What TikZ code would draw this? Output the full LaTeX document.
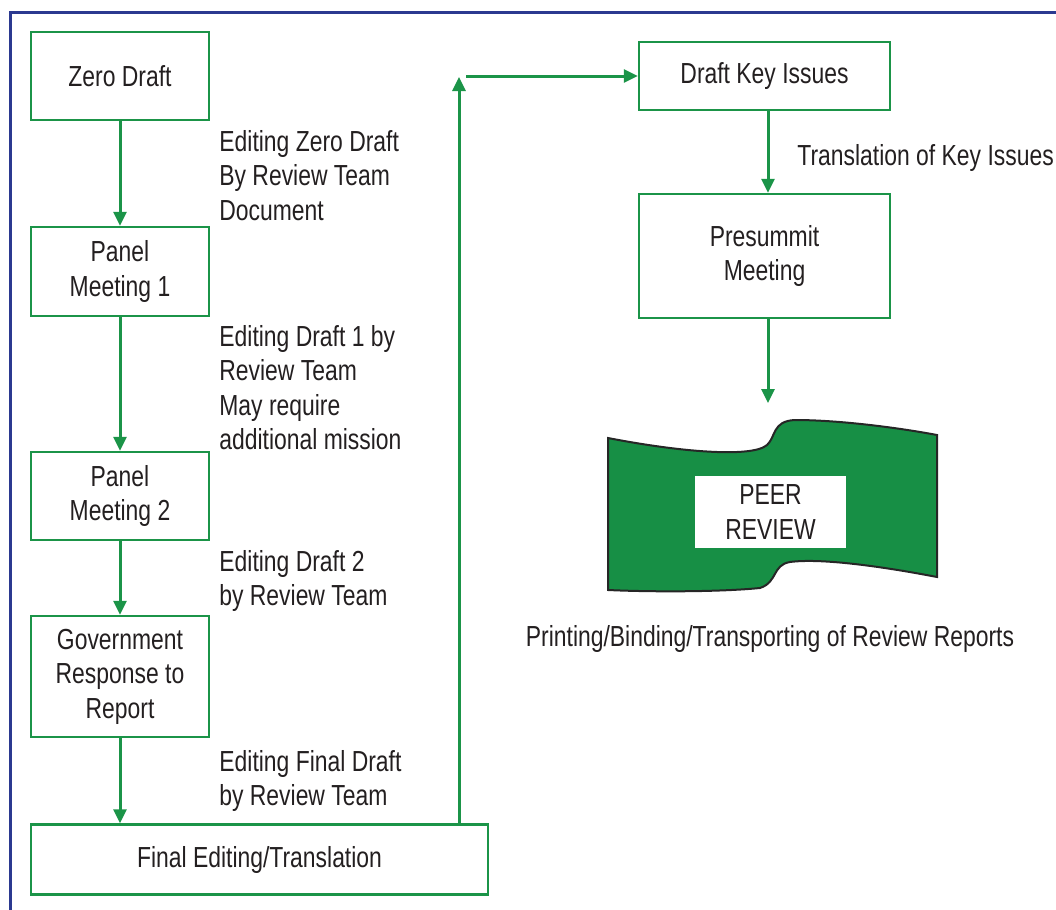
\documentclass[tikz,border=0pt]{standalone}
\usepackage{fontspec}
\setmainfont[FakeStretch=0.79]{Liberation Sans}
\usepackage{xcolor}
\usetikzlibrary{arrows.meta}

\definecolor{boxgreen}{RGB}{27,148,72}
\definecolor{flaggreen}{RGB}{23,143,69}
\definecolor{bordblue}{RGB}{43,57,144}
\definecolor{inkgray}{RGB}{35,31,32}

\begin{document}
\begin{tikzpicture}[x=0.5pt,y=-0.5pt,>={Triangle[length=7pt,width=6.5pt]},
    font=\fontsize{14.5}{17.25}\selectfont,
    stepbox/.style={draw=boxgreen,line width=1.25pt,align=center,inner sep=0pt,text=inkgray},
    flow/.style={draw=boxgreen,line width=1.5pt},
    note/.style={align=left,inner sep=0pt,text=inkgray,anchor=base west}]
        \useasboundingbox (0,0) rectangle (1056,910);
        \clip (0,0) rectangle (1056,910);
        \draw[bordblue,line width=1.5pt] (10,12) rectangle (1100,1000);

        % left column
        \node[stepbox,minimum width=89pt,minimum height=44pt] (zero) at (120,76) {Zero Draft};
        \node[stepbox,minimum width=89pt,minimum height=44.5pt] (panelA) at (120,271.5) {Panel\\Meeting 1};
        \node[stepbox,minimum width=89pt,minimum height=44pt] (panelB) at (120,496) {Panel\\Meeting 2};
        \node[stepbox,minimum width=89pt,minimum height=60.5pt] (govt) at (120,676.5) {Government\\Response to\\Report};
        \node[stepbox,minimum width=228.5pt,minimum height=35pt] (final) at (259.5,859.5) {Final Editing/Translation};

        % right column
        \node[stepbox,minimum width=125.5pt,minimum height=34pt] (keyiss) at (764.5,76) {Draft Key Issues};
        \node[stepbox,minimum width=125.5pt,minimum height=62pt] (presummit) at (764.5,256) {Presummit\\Meeting};

        \draw[flow,->] (zero) -- (panelA);
        \draw[flow,->] (panelA) -- (panelB);
        \draw[flow,->] (panelB) -- (govt);
        \draw[flow,->] (govt) -- (govt |- final.north);

        \coordinate (turn) at (459,77);
        \coordinate (start) at (466,76);
        \coordinate (flagtop) at (768,403);
        \draw[flow,->] (final.north -| turn) -- (turn);
        \draw[flow,->] (start) -- (keyiss.west);
        \draw[flow,->] (keyiss.south -| flagtop) -- (presummit.north -| flagtop);
        \draw[flow,->] (presummit.south -| flagtop) -- (flagtop);

        % the flag
        \draw[fill=flaggreen,line width=1pt,draw=black!85]
            (608,438) .. controls (680,452) and (752,458) .. (767,445)
            .. controls (776,437) and (772,421) .. (795,420)
            .. controls (840,420) and (900,428) .. (937,435)
            -- (937,577)
            .. controls (880,566) and (820,558) .. (790,562)
            .. controls (772,565) and (778,582) .. (760,588)
            .. controls (720,592) and (650,592) .. (608,590) -- cycle;
        \node[fill=white,text=inkgray,align=center,inner sep=0pt,minimum width=75.5pt,minimum height=36pt] (peer) at (770.5,512) {PEER\\REVIEW};

        \node[note] (zdnote) at (219,220) {Editing Zero Draft\\By Review Team\\Document};
        \node[note] (dAnote) at (219,449.5) {Editing Draft 1 by\\Review Team\\May require\\additional mission};
        \node[note] (dBnote) at (219,605.5) {Editing Draft 2\\by Review Team};
        \node[note] (fdnote) at (219,805.5) {Editing Final Draft\\by Review Team};
        \node[note] (kinote) at (797,165) {Translation of Key Issues};
        \node[note,anchor=base] (printnote) at (770,646) {Printing/Binding/Transporting of Review Reports};
      \end{tikzpicture}
\end{document}
